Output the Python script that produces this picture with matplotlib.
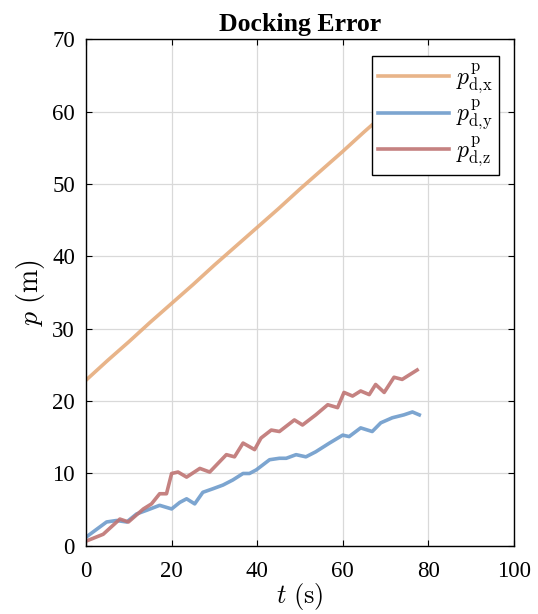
import matplotlib
matplotlib.use("Agg")
import matplotlib.pyplot as plt

# values
t_x = [0, 5, 10, 15, 20, 25, 30, 35, 40, 45, 50, 55, 60, 65, 70, 75, 77.8]
p_x = [22.9, 25.6, 28.2, 30.9, 33.5, 36.1, 38.8, 41.4, 44.0, 46.6, 49.3, 51.9, 54.5, 57.2, 59.8, 62.5, 64.0]

t_y = [0, 2.5, 4.8, 7.1, 9.5, 11.8, 14.1, 17.2, 20.0, 21.9, 23.5, 25.4, 27.3, 29.7, 32.0,
       34.3, 36.7, 38.2, 39.8, 42.9, 45.2, 46.8, 49.1, 51.4, 53.7, 56.9, 60.0, 61.5, 64.2,
       66.9, 68.9, 71.6, 74.3, 76.3, 77.9]
p_y = [1.2, 2.3, 3.3, 3.5, 3.3, 4.4, 4.9, 5.6, 5.1, 6.0, 6.5, 5.8, 7.4, 7.9, 8.4,
       9.1, 10.0, 10.0, 10.5, 11.9, 12.1, 12.1, 12.6, 12.3, 13.0, 14.2, 15.3, 15.1, 16.3,
       15.8, 17.0, 17.7, 18.1, 18.5, 18.1]

t_z = [0.2, 4.0, 7.9, 9.9, 13.4, 15.3, 17.2, 18.8, 20.0, 21.5, 23.5, 26.6, 28.9, 32.8,
       34.7, 36.7, 39.4, 40.9, 43.3, 45.2, 48.7, 50.6, 53.7, 56.5, 58.8, 60.3, 62.3, 64.2,
       66.2, 67.7, 69.7, 72.0, 73.9, 77.4]
p_z = [0.7, 1.6, 3.7, 3.3, 5.1, 5.8, 7.2, 7.2, 10.0, 10.2, 9.5, 10.7, 10.2, 12.6,
       12.3, 14.2, 13.3, 14.9, 16.0, 15.8, 17.4, 16.7, 18.1, 19.5, 19.1, 21.2, 20.7, 21.4,
       20.9, 22.3, 21.2, 23.3, 23.0, 24.3]

x_ticks = [0, 20, 40, 60, 80, 100]
y_ticks = [0, 10, 20, 30, 40, 50, 60, 70]

plt.rcParams['font.family'] = 'Liberation Serif'
plt.rcParams['mathtext.fontset'] = 'cm'

fig = plt.figure(figsize=(5.38, 6.14), dpi=100)
ax = fig.add_axes([0.160, 0.111, 0.795, 0.825])

ax.plot(t_x, p_x, color='#E6AC7C', lw=2.6, alpha=0.9, label=r'$p^{\mathrm{p}}_{\mathrm{d{,}x}}$')
ax.plot(t_y, p_y, color='#6E9BCB', lw=2.6, alpha=0.9, label=r'$p^{\mathrm{p}}_{\mathrm{d{,}y}}$')
ax.plot(t_z, p_z, color='#BF7473', lw=2.6, alpha=0.9, label=r'$p^{\mathrm{p}}_{\mathrm{d{,}z}}$')

ax.set_xlim(0, 100)
ax.set_ylim(0, 70)
ax.set_xticks(x_ticks)
ax.set_yticks(y_ticks)
ax.tick_params(direction='in', top=True, right=True, labelsize=16.5, length=4, width=0.8)
ax.tick_params(axis='x', pad=11)
ax.tick_params(axis='y', pad=8)
ax.grid(True, color='#d9d9d9', lw=0.9)
ax.set_axisbelow(True)
for s in ax.spines.values():
    s.set_linewidth(1.0)

ax.set_title('Docking Error', fontsize=18.5, fontweight='bold', pad=6)
ax.set_xlabel(r'$t\ (\mathrm{s})$', fontsize=19, labelpad=-1)
ax.set_ylabel(r'$p\ (\mathrm{m})$', fontsize=20, labelpad=4)

leg = ax.legend(loc='upper right', bbox_to_anchor=(0.965, 0.967), fontsize=17,
                handlelength=3.0, frameon=True, fancybox=False, framealpha=1,
                edgecolor='black', borderpad=0.25, labelspacing=0.1, handletextpad=0.3,
                borderaxespad=0)
leg.get_frame().set_linewidth(1.0)

fig.savefig('out.png', dpi=100)
